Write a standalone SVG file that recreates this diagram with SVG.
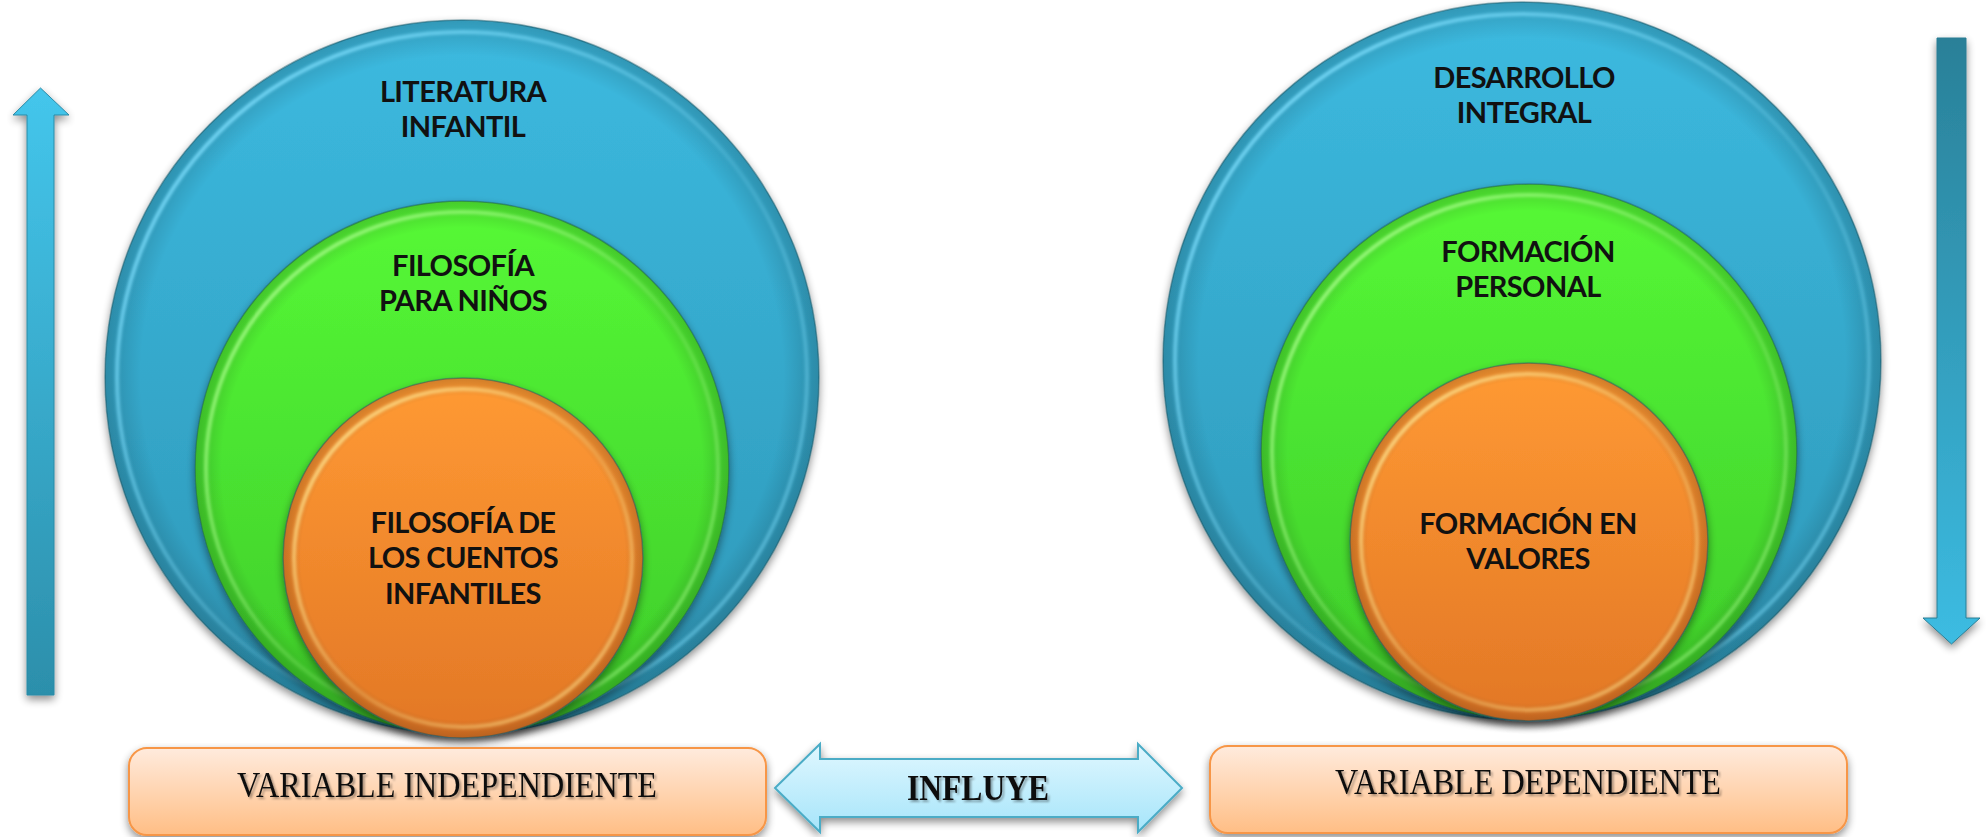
<svg xmlns="http://www.w3.org/2000/svg" width="1988" height="837" viewBox="0 0 1988 837">
<defs>
  <linearGradient id="gBlue" x1="0" y1="0" x2="0" y2="1">
    <stop offset="0" stop-color="#3CBAE0"/>
    <stop offset="1" stop-color="#2E96B6"/>
  </linearGradient>
  <linearGradient id="gGreen" x1="0" y1="0" x2="0" y2="1">
    <stop offset="0" stop-color="#56F936"/>
    <stop offset="1" stop-color="#3ECB2A"/>
  </linearGradient>
  <linearGradient id="gOrange" x1="0" y1="0" x2="0" y2="1">
    <stop offset="0" stop-color="#FF9A33"/>
    <stop offset="1" stop-color="#E27726"/>
  </linearGradient>
  <linearGradient id="hlBlue" x1="0" y1="0" x2="1" y2="1">
    <stop offset="0" stop-color="#7FE0FF" stop-opacity="1"/>
    <stop offset="0.55" stop-color="#7FE0FF" stop-opacity="0.2"/>
    <stop offset="1" stop-color="#7FE0FF" stop-opacity="0.6"/>
  </linearGradient>
  <linearGradient id="hlGreen" x1="0" y1="0" x2="1" y2="1">
    <stop offset="0" stop-color="#A8FF8A" stop-opacity="1"/>
    <stop offset="0.55" stop-color="#A8FF8A" stop-opacity="0.2"/>
    <stop offset="1" stop-color="#A8FF8A" stop-opacity="0.6"/>
  </linearGradient>
  <linearGradient id="hlOrange" x1="0" y1="0" x2="1" y2="1">
    <stop offset="0" stop-color="#FFE08A" stop-opacity="1"/>
    <stop offset="0.55" stop-color="#FFE08A" stop-opacity="0.25"/>
    <stop offset="1" stop-color="#FFE08A" stop-opacity="0.7"/>
  </linearGradient>
  <radialGradient id="edgeShade" cx="0.5" cy="0.5" r="0.5">
    <stop offset="0.9" stop-color="#000" stop-opacity="0"/>
    <stop offset="1" stop-color="#000" stop-opacity="0.18"/>
  </radialGradient>
  <linearGradient id="gUp" x1="0" y1="0" x2="0" y2="1">
    <stop offset="0" stop-color="#44C6EC"/>
    <stop offset="1" stop-color="#2C8FAB"/>
  </linearGradient>
  <linearGradient id="gDown" x1="0" y1="0" x2="0" y2="1">
    <stop offset="0" stop-color="#2A8098"/>
    <stop offset="1" stop-color="#3CBCE2"/>
  </linearGradient>
  <linearGradient id="gBox" x1="0" y1="0" x2="0" y2="1">
    <stop offset="0" stop-color="#FFEBDD"/>
    <stop offset="1" stop-color="#FFBE85"/>
  </linearGradient>
  <linearGradient id="gDbl" x1="0" y1="0" x2="0" y2="1">
    <stop offset="0" stop-color="#E0F7FF"/>
    <stop offset="1" stop-color="#A6E5FA"/>
  </linearGradient>
  <filter id="shadow" x="-10%" y="-10%" width="120%" height="125%">
    <feGaussianBlur in="SourceAlpha" stdDeviation="4"/>
    <feOffset dy="4" result="b"/>
    <feComponentTransfer><feFuncA type="linear" slope="0.45"/></feComponentTransfer>
    <feMerge><feMergeNode/><feMergeNode in="SourceGraphic"/></feMerge>
  </filter>
  <filter id="soft" x="-5%" y="-5%" width="110%" height="110%">
    <feGaussianBlur stdDeviation="1.5"/>
  </filter>
  <filter id="tshadow" x="-5%" y="-20%" width="110%" height="150%">
    <feGaussianBlur in="SourceAlpha" stdDeviation="1"/>
    <feOffset dx="1.5" dy="1.5"/>
    <feComponentTransfer><feFuncA type="linear" slope="0.35"/></feComponentTransfer>
    <feMerge><feMergeNode/><feMergeNode in="SourceGraphic"/></feMerge>
  </filter>
  <style>
    .lbl { font-family: Lato, "Open Sans", "Liberation Sans", sans-serif; font-weight: bold; font-size: 29px; letter-spacing: -0.6px; fill: #111; text-anchor: middle; }
    .var { font-family: "Liberation Serif", "Times New Roman", serif; font-size: 35px; fill: #111; text-anchor: middle; }
    .edge { stroke: #1E5F70; stroke-opacity: 0.5; stroke-width: 1.5; }
    .hl { fill: none; stroke-width: 4; }
  </style>
</defs>
<rect width="1988" height="837" fill="#FFFFFF"/>

<g id="arrow-up">
  <path d="M27 695 L27 115 L13 115 L40.5 88 L69 115 L54 115 L54 695 Z" fill="url(#gUp)" stroke="#2A8AA6" stroke-width="1" filter="url(#shadow)"/>
</g>
<g id="arrow-down">
  <path d="M1937 38 L1966 38 L1966 618 L1980 618 L1951.5 644 L1923 618 L1937 618 Z" fill="url(#gDown)" stroke="#287C93" stroke-width="1" filter="url(#shadow)"/>
</g>

<g id="literatura-infantil">
  <circle cx="462" cy="377" r="357" fill="url(#gBlue)" class="edge" filter="url(#shadow)"/>
  <circle cx="462" cy="377" r="357" fill="url(#edgeShade)"/>
  <circle cx="462" cy="377" r="345" class="hl" stroke="url(#hlBlue)" filter="url(#soft)"/>
  <text class="lbl" x="463" y="102">LITERATURA</text>
  <text class="lbl" x="463" y="137">INFANTIL</text>
</g>
<g id="filosofia-para-ninos">
  <circle cx="462" cy="468" r="267" fill="url(#gGreen)" class="edge" filter="url(#shadow)"/>
  <circle cx="462" cy="468" r="267" fill="url(#edgeShade)"/>
  <circle cx="462" cy="468" r="256" class="hl" stroke="url(#hlGreen)" filter="url(#soft)"/>
  <text class="lbl" x="463" y="276">FILOSOFÍA</text>
  <text class="lbl" x="463" y="311">PARA NIÑOS</text>
</g>
<g id="filosofia-cuentos">
  <circle cx="463" cy="558" r="180" fill="url(#gOrange)" class="edge" filter="url(#shadow)"/>
  <circle cx="463" cy="558" r="180" fill="url(#edgeShade)"/>
  <circle cx="463" cy="558" r="169" class="hl" stroke="url(#hlOrange)" filter="url(#soft)"/>
  <text class="lbl" x="463" y="533">FILOSOFÍA DE</text>
  <text class="lbl" x="463" y="568">LOS CUENTOS</text>
  <text class="lbl" x="463" y="604">INFANTILES</text>
</g>

<g id="desarrollo-integral">
  <circle cx="1522" cy="361" r="359" fill="url(#gBlue)" class="edge" filter="url(#shadow)"/>
  <circle cx="1522" cy="361" r="359" fill="url(#edgeShade)"/>
  <circle cx="1522" cy="361" r="347" class="hl" stroke="url(#hlBlue)" filter="url(#soft)"/>
  <text class="lbl" x="1524" y="88">DESARROLLO</text>
  <text class="lbl" x="1524" y="123">INTEGRAL</text>
</g>
<g id="formacion-personal">
  <circle cx="1529" cy="452" r="268" fill="url(#gGreen)" class="edge" filter="url(#shadow)"/>
  <circle cx="1529" cy="452" r="268" fill="url(#edgeShade)"/>
  <circle cx="1529" cy="452" r="257" class="hl" stroke="url(#hlGreen)" filter="url(#soft)"/>
  <text class="lbl" x="1528" y="262">FORMACIÓN</text>
  <text class="lbl" x="1528" y="297">PERSONAL</text>
</g>
<g id="formacion-valores">
  <circle cx="1529" cy="542" r="179" fill="url(#gOrange)" class="edge" filter="url(#shadow)"/>
  <circle cx="1529" cy="542" r="179" fill="url(#edgeShade)"/>
  <circle cx="1529" cy="542" r="168" class="hl" stroke="url(#hlOrange)" filter="url(#soft)"/>
  <text class="lbl" x="1528" y="534">FORMACIÓN EN</text>
  <text class="lbl" x="1528" y="569">VALORES</text>
</g>

<g id="variable-independiente">
  <rect x="129" y="748" width="637" height="87" rx="18" fill="url(#gBox)" stroke="#F79646" stroke-width="2" filter="url(#shadow)"/>
  <text class="var" x="447" y="797" textLength="420" lengthAdjust="spacingAndGlyphs" filter="url(#tshadow)">VARIABLE INDEPENDIENTE</text>
</g>
<g id="variable-dependiente">
  <rect x="1210" y="746" width="637" height="87" rx="18" fill="url(#gBox)" stroke="#F79646" stroke-width="2" filter="url(#shadow)"/>
  <text class="var" x="1528" y="794" textLength="386" lengthAdjust="spacingAndGlyphs" filter="url(#tshadow)">VARIABLE DEPENDIENTE</text>
</g>

<g id="connectors">
  <g id="influye">
    <path d="M775 788 L820 744 L820 759 L1138 759 L1138 744 L1182 788 L1138 832 L1138 817 L820 817 L820 832 Z" fill="url(#gDbl)" stroke="#4BACC6" stroke-width="2" filter="url(#shadow)"/>
    <text class="var" x="978" y="800" font-weight="bold" textLength="142" lengthAdjust="spacingAndGlyphs" filter="url(#tshadow)">INFLUYE</text>
  </g>
</g>
</svg>
